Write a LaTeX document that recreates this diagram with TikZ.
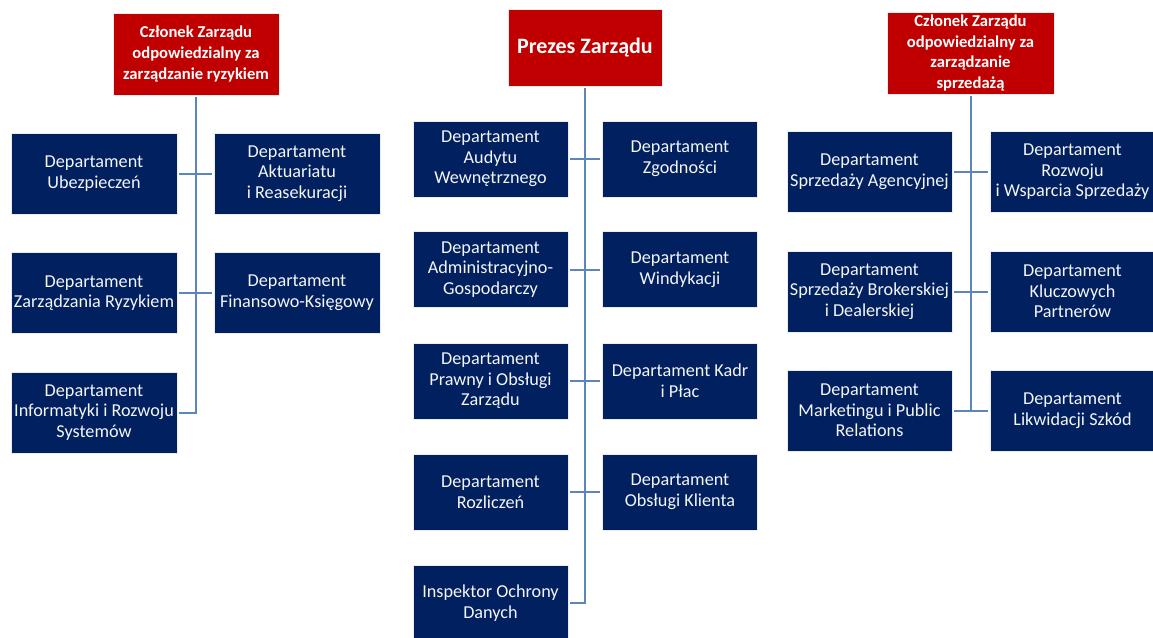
\documentclass[tikz,border=0pt]{standalone}
\usepackage{fontspec}
\setmainfont{Carlito}
\definecolor{boardred}{HTML}{C00000}
\definecolor{deptblue}{HTML}{002060}
\definecolor{linkblue}{HTML}{5A87B8}
\begin{document}
\begin{tikzpicture}[x=1pt,y=-1pt,
  base/.style={rectangle, inner sep=0pt, align=center, text=white, draw=white!85!gray, line width=0.6pt},
  boss/.style={base, fill=boardred, font=\fontsize{16.6}{20.7}\selectfont\bfseries},
  dept/.style={base, fill=deptblue, text=white!92!gray, font=\fontsize{18.2}{20.6}\selectfont},
  deptL/.style={dept, minimum width=166pt, minimum height=81pt},
  deptM/.style={dept, minimum width=155pt, minimum height=76pt},
  deptR/.style={dept, minimum width=165pt, minimum height=81pt},
  link/.style={draw=linkblue, line width=2pt},
  hlink/.style={link, shorten <=2pt, shorten >=2pt}
]
\useasboundingbox (0,0) rectangle (1153,637);
\fill[white] (0,0) rectangle (1153,637);

% ---------- left group ----------
\node[boss, minimum width=166pt, minimum height=82pt] (lb) at (196,54) {Członek Zarządu\\odpowiedzialny za\\zarządzanie ryzykiem};
\node[deptL] (l11) at (94,173.5) {Departament\\Ubezpieczeń};
\node[deptL] (l12) at (297,173.5) {Departament\\Aktuariatu\\i Reasekuracji};
\node[deptL] (l21) at (94,293) {Departament\\Zarządzania Ryzykiem};
\node[deptL] (l22) at (297,293) {Departament\\Finansowo-Księgowy};
\node[deptL] (l31) at (94,412.5) {Departament\\Informatyki i Rozwoju\\Systemów};
\coordinate (lend) at (196,413);
\draw[link, shorten <=2pt] (lb.south) -- (lend);
\draw[hlink] (l11.east) -- (l12.west);
\draw[hlink] (l21.east) -- (l22.west);
\draw[link, shorten <=2pt] (l31.east |- lend) -- ([xshift=1pt]lend);

% ---------- middle group ----------
\node[boss, font=\fontsize{22}{24}\selectfont\bfseries, minimum width=154pt, minimum height=77pt] (mb) at (585,47.5) {Prezes Zarządu};
\node[deptM] (m11) at (490.5,159) {Departament\\Audytu\\Wewnętrznego};
\node[deptM] (m12) at (680,159) {Departament\\Zgodności};
\node[deptM] (m21) at (490.5,269.5) {Departament\\Administracyjno-\\Gospodarczy};
\node[deptM] (m22) at (680,269.5) {Departament\\Windykacji};
\node[deptM] (m31) at (490.5,381) {Departament\\Prawny i Obsługi\\Zarządu};
\node[deptM] (m32) at (680,381) {Departament Kadr\\i Płac};
\node[deptM] (m41) at (490.5,492) {Departament\\Rozliczeń};
\node[deptM] (m42) at (680,492) {Departament\\Obsługi Klienta};
\node[deptM] (m51) at (490.5,603) {Inspektor Ochrony\\Danych};
\coordinate (mend) at (585,603);
\draw[link, shorten <=2pt] (mb.south) -- (mend);
\draw[hlink] (m11.east) -- (m12.west);
\draw[hlink] (m21.east) -- (m22.west);
\draw[hlink] (m31.east) -- (m32.west);
\draw[hlink] (m41.east) -- (m42.west);
\draw[link, shorten <=2pt] (m51.east |- mend) -- ([xshift=1pt]mend);

% ---------- right group ----------
\node[boss, minimum width=167pt, minimum height=82pt] (rb) at (970.5,53) {Członek Zarządu\\odpowiedzialny za\\zarządzanie\\sprzedażą};
\node[deptR] (r11) at (869.5,172) {Departament\\Sprzedaży Agencyjnej};
\node[deptR] (r12) at (1072.5,172) {Departament\\Rozwoju\\i Wsparcia Sprzedaży};
\node[deptR] (r21) at (869.5,291.5) {Departament\\Sprzedaży Brokerskiej\\i Dealerskiej};
\node[deptR] (r22) at (1072.5,291.5) {Departament\\Kluczowych\\Partnerów};
\node[deptR] (r31) at (869.5,410.5) {Departament\\Marketingu i Public\\Relations};
\node[deptR] (r32) at (1072.5,410.5) {Departament\\Likwidacji Szkód};
\coordinate (rend) at (970.5,410.5);
\draw[link, shorten <=2pt] (rb.south) -- (rend);
\draw[hlink] (r11.east) -- (r12.west);
\draw[hlink] (r21.east) -- (r22.west);
\draw[hlink] (r31.east) -- (r32.west);
\end{tikzpicture}
\end{document}
